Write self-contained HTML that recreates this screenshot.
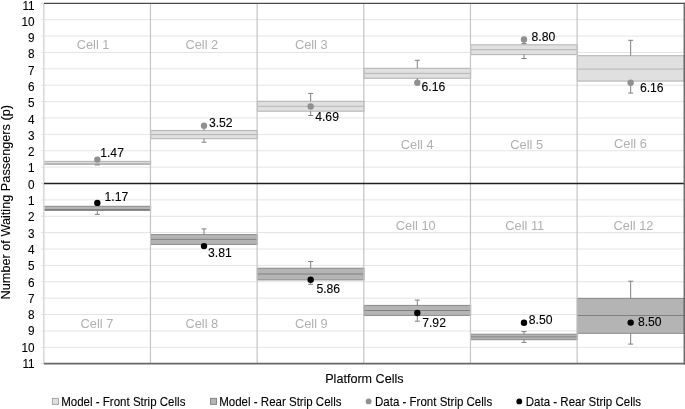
<!DOCTYPE html>
<html lang="en"><head><meta charset="utf-8"><title>Platform Cells chart</title>
<style>html,body{margin:0;padding:0;background:#fff}body{width:685px;height:409px;overflow:hidden}svg{display:block}</style></head>
<body>
<svg width="685" height="409" viewBox="0 0 685 409" font-family='"Liberation Sans", Arial, Helvetica, sans-serif'>
<rect width="685" height="409" fill="#fff"/>
<line x1="41.0" y1="347.32" x2="684.0" y2="347.32" stroke="#e4e4e4" stroke-width="1"/>
<line x1="41.0" y1="330.94" x2="684.0" y2="330.94" stroke="#e4e4e4" stroke-width="1"/>
<line x1="41.0" y1="314.55" x2="684.0" y2="314.55" stroke="#e4e4e4" stroke-width="1"/>
<line x1="41.0" y1="298.17" x2="684.0" y2="298.17" stroke="#e4e4e4" stroke-width="1"/>
<line x1="41.0" y1="281.79" x2="684.0" y2="281.79" stroke="#e4e4e4" stroke-width="1"/>
<line x1="41.0" y1="265.41" x2="684.0" y2="265.41" stroke="#e4e4e4" stroke-width="1"/>
<line x1="41.0" y1="249.03" x2="684.0" y2="249.03" stroke="#e4e4e4" stroke-width="1"/>
<line x1="41.0" y1="232.65" x2="684.0" y2="232.65" stroke="#e4e4e4" stroke-width="1"/>
<line x1="41.0" y1="216.26" x2="684.0" y2="216.26" stroke="#e4e4e4" stroke-width="1"/>
<line x1="41.0" y1="199.88" x2="684.0" y2="199.88" stroke="#e4e4e4" stroke-width="1"/>
<line x1="41.0" y1="167.12" x2="684.0" y2="167.12" stroke="#e4e4e4" stroke-width="1"/>
<line x1="41.0" y1="150.74" x2="684.0" y2="150.74" stroke="#e4e4e4" stroke-width="1"/>
<line x1="41.0" y1="134.35" x2="684.0" y2="134.35" stroke="#e4e4e4" stroke-width="1"/>
<line x1="41.0" y1="117.97" x2="684.0" y2="117.97" stroke="#e4e4e4" stroke-width="1"/>
<line x1="41.0" y1="101.59" x2="684.0" y2="101.59" stroke="#e4e4e4" stroke-width="1"/>
<line x1="41.0" y1="85.21" x2="684.0" y2="85.21" stroke="#e4e4e4" stroke-width="1"/>
<line x1="41.0" y1="68.83" x2="684.0" y2="68.83" stroke="#e4e4e4" stroke-width="1"/>
<line x1="41.0" y1="52.45" x2="684.0" y2="52.45" stroke="#e4e4e4" stroke-width="1"/>
<line x1="41.0" y1="36.06" x2="684.0" y2="36.06" stroke="#e4e4e4" stroke-width="1"/>
<line x1="41.0" y1="19.68" x2="684.0" y2="19.68" stroke="#e4e4e4" stroke-width="1"/>
<rect x="44.00" y="161.4" width="106.67" height="3.00" fill="#e0e0e0" stroke="#b6b6b6" stroke-width="1.1"/>
<line x1="44.00" y1="163.4" x2="150.67" y2="163.4" stroke="#b4b4b4" stroke-width="1"/>
<rect x="150.67" y="130.5" width="106.67" height="8.20" fill="#e0e0e0" stroke="#b6b6b6" stroke-width="1.1"/>
<line x1="150.67" y1="134.6" x2="257.33" y2="134.6" stroke="#b4b4b4" stroke-width="1"/>
<rect x="257.33" y="101.3" width="106.67" height="9.90" fill="#e0e0e0" stroke="#b6b6b6" stroke-width="1.1"/>
<line x1="257.33" y1="106.3" x2="364.00" y2="106.3" stroke="#b4b4b4" stroke-width="1"/>
<rect x="364.00" y="68.3" width="106.67" height="10.00" fill="#e0e0e0" stroke="#b6b6b6" stroke-width="1.1"/>
<line x1="364.00" y1="73.4" x2="470.67" y2="73.4" stroke="#b4b4b4" stroke-width="1"/>
<rect x="470.67" y="44.8" width="106.67" height="9.80" fill="#e0e0e0" stroke="#b6b6b6" stroke-width="1.1"/>
<line x1="470.67" y1="49.7" x2="577.33" y2="49.7" stroke="#b4b4b4" stroke-width="1"/>
<rect x="577.33" y="55.7" width="106.67" height="25.40" fill="#e0e0e0" stroke="#b6b6b6" stroke-width="1.1"/>
<line x1="577.33" y1="69.1" x2="684.00" y2="69.1" stroke="#b4b4b4" stroke-width="1"/>
<rect x="44.00" y="206.3" width="106.67" height="4.20" fill="#b4b4b4" stroke="#8a8a8a" stroke-width="1"/>
<line x1="44.00" y1="209.5" x2="150.67" y2="209.5" stroke="#808080" stroke-width="1"/>
<rect x="150.67" y="234.6" width="106.67" height="9.80" fill="#b4b4b4" stroke="#8a8a8a" stroke-width="1"/>
<line x1="150.67" y1="239.3" x2="257.33" y2="239.3" stroke="#808080" stroke-width="1"/>
<rect x="257.33" y="268.2" width="106.67" height="11.70" fill="#b4b4b4" stroke="#8a8a8a" stroke-width="1"/>
<line x1="257.33" y1="274.0" x2="364.00" y2="274.0" stroke="#808080" stroke-width="1"/>
<rect x="364.00" y="305.4" width="106.67" height="10.00" fill="#b4b4b4" stroke="#8a8a8a" stroke-width="1"/>
<line x1="364.00" y1="310.5" x2="470.67" y2="310.5" stroke="#808080" stroke-width="1"/>
<rect x="470.67" y="334.2" width="106.67" height="5.50" fill="#b4b4b4" stroke="#8a8a8a" stroke-width="1"/>
<line x1="470.67" y1="336.9" x2="577.33" y2="336.9" stroke="#808080" stroke-width="1"/>
<rect x="577.33" y="298.4" width="106.67" height="34.90" fill="#b4b4b4" stroke="#8a8a8a" stroke-width="1"/>
<line x1="577.33" y1="315.5" x2="684.00" y2="315.5" stroke="#808080" stroke-width="1"/>
<line x1="150.47" y1="3.3" x2="150.47" y2="363.8" stroke="#c4c4c4" stroke-width="1.2"/>
<line x1="257.13" y1="3.3" x2="257.13" y2="363.8" stroke="#c4c4c4" stroke-width="1.2"/>
<line x1="363.80" y1="3.3" x2="363.80" y2="363.8" stroke="#c4c4c4" stroke-width="1.2"/>
<line x1="470.47" y1="3.3" x2="470.47" y2="363.8" stroke="#c4c4c4" stroke-width="1.2"/>
<line x1="577.13" y1="3.3" x2="577.13" y2="363.8" stroke="#c4c4c4" stroke-width="1.2"/>
<line x1="43.8" y1="3.3" x2="43.8" y2="363.8" stroke="#dadada" stroke-width="1.7"/>
<line x1="41.0" y1="363.70" x2="44.0" y2="363.70" stroke="#d9d9d9" stroke-width="1"/>
<line x1="41.0" y1="183.50" x2="44.0" y2="183.50" stroke="#d9d9d9" stroke-width="1"/>
<line x1="41.0" y1="3.30" x2="44.0" y2="3.30" stroke="#d9d9d9" stroke-width="1"/>
<line x1="97.33" y1="159.5" x2="97.33" y2="161.3" stroke="#808080" stroke-width="1"/>
<line x1="97.33" y1="164.5" x2="97.33" y2="164.9" stroke="#808080" stroke-width="1"/><line x1="94.83" y1="164.9" x2="99.83" y2="164.9" stroke="#808080" stroke-width="1"/>
<line x1="204.00" y1="125.8" x2="204.00" y2="130.5" stroke="#808080" stroke-width="1"/>
<line x1="204.00" y1="138.7" x2="204.00" y2="142.2" stroke="#808080" stroke-width="1"/><line x1="201.50" y1="142.2" x2="206.50" y2="142.2" stroke="#808080" stroke-width="1"/>
<line x1="310.67" y1="93.4" x2="310.67" y2="101.3" stroke="#808080" stroke-width="1"/><line x1="308.17" y1="93.4" x2="313.17" y2="93.4" stroke="#808080" stroke-width="1"/>
<line x1="310.67" y1="111.2" x2="310.67" y2="115.5" stroke="#808080" stroke-width="1"/><line x1="308.17" y1="115.5" x2="313.17" y2="115.5" stroke="#808080" stroke-width="1"/>
<line x1="417.33" y1="60.3" x2="417.33" y2="68.3" stroke="#808080" stroke-width="1"/><line x1="414.83" y1="60.3" x2="419.83" y2="60.3" stroke="#808080" stroke-width="1"/>
<line x1="417.33" y1="78.3" x2="417.33" y2="82.8" stroke="#808080" stroke-width="1"/>
<line x1="524.00" y1="39.5" x2="524.00" y2="43.6" stroke="#808080" stroke-width="1"/><line x1="521.50" y1="43.6" x2="526.50" y2="43.6" stroke="#808080" stroke-width="1"/>
<line x1="524.00" y1="54.6" x2="524.00" y2="58.5" stroke="#808080" stroke-width="1"/><line x1="521.50" y1="58.5" x2="526.50" y2="58.5" stroke="#808080" stroke-width="1"/>
<line x1="630.67" y1="40.3" x2="630.67" y2="55.7" stroke="#808080" stroke-width="1"/><line x1="628.17" y1="40.3" x2="633.17" y2="40.3" stroke="#808080" stroke-width="1"/>
<line x1="630.67" y1="81.1" x2="630.67" y2="93.1" stroke="#808080" stroke-width="1"/><line x1="628.17" y1="93.1" x2="633.17" y2="93.1" stroke="#808080" stroke-width="1"/>
<line x1="97.33" y1="210.9" x2="97.33" y2="214.4" stroke="#808080" stroke-width="1"/><line x1="94.83" y1="214.4" x2="99.83" y2="214.4" stroke="#808080" stroke-width="1"/>
<line x1="204.00" y1="228.9" x2="204.00" y2="234.6" stroke="#808080" stroke-width="1"/><line x1="201.50" y1="228.9" x2="206.50" y2="228.9" stroke="#808080" stroke-width="1"/>
<line x1="204.00" y1="244.4" x2="204.00" y2="246" stroke="#808080" stroke-width="1"/>
<line x1="310.67" y1="261.5" x2="310.67" y2="268.2" stroke="#808080" stroke-width="1"/><line x1="308.17" y1="261.5" x2="313.17" y2="261.5" stroke="#808080" stroke-width="1"/>
<line x1="310.67" y1="279.9" x2="310.67" y2="284.4" stroke="#808080" stroke-width="1"/><line x1="308.17" y1="284.4" x2="313.17" y2="284.4" stroke="#808080" stroke-width="1"/>
<line x1="417.33" y1="300.1" x2="417.33" y2="305.4" stroke="#808080" stroke-width="1"/><line x1="414.83" y1="300.1" x2="419.83" y2="300.1" stroke="#808080" stroke-width="1"/>
<line x1="417.33" y1="315.4" x2="417.33" y2="321.2" stroke="#808080" stroke-width="1"/><line x1="414.83" y1="321.2" x2="419.83" y2="321.2" stroke="#808080" stroke-width="1"/>
<line x1="524.00" y1="331.6" x2="524.00" y2="334.2" stroke="#808080" stroke-width="1"/><line x1="521.50" y1="331.6" x2="526.50" y2="331.6" stroke="#808080" stroke-width="1"/>
<line x1="524.00" y1="339.7" x2="524.00" y2="342.4" stroke="#808080" stroke-width="1"/><line x1="521.50" y1="342.4" x2="526.50" y2="342.4" stroke="#808080" stroke-width="1"/>
<line x1="630.67" y1="281.2" x2="630.67" y2="298.4" stroke="#808080" stroke-width="1"/><line x1="628.17" y1="281.2" x2="633.17" y2="281.2" stroke="#808080" stroke-width="1"/>
<line x1="630.67" y1="333.3" x2="630.67" y2="344.1" stroke="#808080" stroke-width="1"/><line x1="628.17" y1="344.1" x2="633.17" y2="344.1" stroke="#808080" stroke-width="1"/>
<line x1="44.0" y1="3.4" x2="685.0" y2="3.4" stroke="#4a4a4a" stroke-width="1.25"/>
<line x1="44.0" y1="183.5" x2="684.0" y2="183.5" stroke="#202020" stroke-width="1.3"/>
<line x1="44.0" y1="363.7" x2="685.0" y2="363.7" stroke="#686868" stroke-width="1.7"/>
<line x1="684.3" y1="2.6999999999999997" x2="684.3" y2="364.40000000000003" stroke="#6c6c6c" stroke-width="1.5"/>
<circle cx="97.33" cy="159.6" r="3.2" fill="#909090"/>
<circle cx="204.00" cy="125.8" r="3.2" fill="#909090"/>
<circle cx="310.67" cy="106.5" r="3.2" fill="#909090"/>
<circle cx="417.33" cy="82.8" r="3.2" fill="#909090"/>
<circle cx="524.00" cy="39.5" r="3.2" fill="#909090"/>
<circle cx="630.67" cy="82.8" r="3.2" fill="#909090"/>
<circle cx="97.33" cy="202.9" r="3.2" fill="#000"/>
<circle cx="204.00" cy="246.1" r="3.2" fill="#000"/>
<circle cx="310.67" cy="279.7" r="3.2" fill="#000"/>
<circle cx="417.33" cy="313.0" r="3.2" fill="#000"/>
<circle cx="524.00" cy="322.8" r="3.2" fill="#000"/>
<circle cx="630.67" cy="322.6" r="3.2" fill="#000"/>
<text x="100.2" y="156.9" font-size="12.2" fill="#000" stroke="#000" stroke-width="0.1">1.47</text>
<text x="208.9" y="126.9" font-size="12.2" fill="#000" stroke="#000" stroke-width="0.1">3.52</text>
<text x="315.2" y="121.1" font-size="12.2" fill="#000" stroke="#000" stroke-width="0.1">4.69</text>
<text x="421.6" y="90.7" font-size="12.2" fill="#000" stroke="#000" stroke-width="0.1">6.16</text>
<text x="531.6" y="41.4" font-size="12.2" fill="#000" stroke="#000" stroke-width="0.1">8.80</text>
<text x="639.9" y="92.1" font-size="12.2" fill="#000" stroke="#000" stroke-width="0.1">6.16</text>
<text x="104.5" y="201.0" font-size="12.2" fill="#000" stroke="#000" stroke-width="0.1">1.17</text>
<text x="208.0" y="257.2" font-size="12.2" fill="#000" stroke="#000" stroke-width="0.1">3.81</text>
<text x="316.4" y="292.5" font-size="12.2" fill="#000" stroke="#000" stroke-width="0.1">5.86</text>
<text x="422.2" y="326.8" font-size="12.2" fill="#000" stroke="#000" stroke-width="0.1">7.92</text>
<text x="528.8" y="323.7" font-size="12.2" fill="#000" stroke="#000" stroke-width="0.1">8.50</text>
<text x="637.9" y="325.8" font-size="12.2" fill="#000" stroke="#000" stroke-width="0.1">8.50</text>
<text x="76.70" y="48.90" font-size="12.8" fill="#b0b0b0">Cell 1</text>
<text x="185.50" y="48.90" font-size="12.8" fill="#b0b0b0">Cell 2</text>
<text x="294.90" y="48.90" font-size="12.8" fill="#b0b0b0">Cell 3</text>
<text x="400.80" y="149.30" font-size="12.8" fill="#b0b0b0">Cell 4</text>
<text x="510.30" y="149.30" font-size="12.8" fill="#b0b0b0">Cell 5</text>
<text x="614.10" y="148.00" font-size="12.8" fill="#b0b0b0">Cell 6</text>
<text x="80.60" y="327.60" font-size="12.8" fill="#b0b0b0">Cell 7</text>
<text x="185.50" y="327.60" font-size="12.8" fill="#b0b0b0">Cell 8</text>
<text x="295.00" y="327.60" font-size="12.8" fill="#b0b0b0">Cell 9</text>
<text x="395.80" y="229.90" font-size="12.8" fill="#b0b0b0">Cell 10</text>
<text x="505.30" y="229.90" font-size="12.8" fill="#b0b0b0">Cell 11</text>
<text x="613.60" y="229.90" font-size="12.8" fill="#b0b0b0">Cell 12</text>
<text transform="translate(34.6,368.00) scale(0.95,1)" font-size="12.4" fill="#000" stroke="#000" stroke-width="0.1" text-anchor="end">11</text>
<text transform="translate(34.6,351.70) scale(0.95,1)" font-size="12.4" fill="#000" stroke="#000" stroke-width="0.1" text-anchor="end">10</text>
<text transform="translate(34.6,335.41) scale(0.95,1)" font-size="12.4" fill="#000" stroke="#000" stroke-width="0.1" text-anchor="end">9</text>
<text transform="translate(34.6,319.11) scale(0.95,1)" font-size="12.4" fill="#000" stroke="#000" stroke-width="0.1" text-anchor="end">8</text>
<text transform="translate(34.6,302.81) scale(0.95,1)" font-size="12.4" fill="#000" stroke="#000" stroke-width="0.1" text-anchor="end">7</text>
<text transform="translate(34.6,286.52) scale(0.95,1)" font-size="12.4" fill="#000" stroke="#000" stroke-width="0.1" text-anchor="end">6</text>
<text transform="translate(34.6,270.23) scale(0.95,1)" font-size="12.4" fill="#000" stroke="#000" stroke-width="0.1" text-anchor="end">5</text>
<text transform="translate(34.6,253.93) scale(0.95,1)" font-size="12.4" fill="#000" stroke="#000" stroke-width="0.1" text-anchor="end">4</text>
<text transform="translate(34.6,237.63) scale(0.95,1)" font-size="12.4" fill="#000" stroke="#000" stroke-width="0.1" text-anchor="end">3</text>
<text transform="translate(34.6,221.34) scale(0.95,1)" font-size="12.4" fill="#000" stroke="#000" stroke-width="0.1" text-anchor="end">2</text>
<text transform="translate(34.6,205.05) scale(0.95,1)" font-size="12.4" fill="#000" stroke="#000" stroke-width="0.1" text-anchor="end">1</text>
<text transform="translate(34.6,188.75) scale(0.95,1)" font-size="12.4" fill="#000" stroke="#000" stroke-width="0.1" text-anchor="end">0</text>
<text transform="translate(34.6,172.45) scale(0.95,1)" font-size="12.4" fill="#000" stroke="#000" stroke-width="0.1" text-anchor="end">1</text>
<text transform="translate(34.6,156.16) scale(0.95,1)" font-size="12.4" fill="#000" stroke="#000" stroke-width="0.1" text-anchor="end">2</text>
<text transform="translate(34.6,139.87) scale(0.95,1)" font-size="12.4" fill="#000" stroke="#000" stroke-width="0.1" text-anchor="end">3</text>
<text transform="translate(34.6,123.57) scale(0.95,1)" font-size="12.4" fill="#000" stroke="#000" stroke-width="0.1" text-anchor="end">4</text>
<text transform="translate(34.6,107.27) scale(0.95,1)" font-size="12.4" fill="#000" stroke="#000" stroke-width="0.1" text-anchor="end">5</text>
<text transform="translate(34.6,90.98) scale(0.95,1)" font-size="12.4" fill="#000" stroke="#000" stroke-width="0.1" text-anchor="end">6</text>
<text transform="translate(34.6,74.68) scale(0.95,1)" font-size="12.4" fill="#000" stroke="#000" stroke-width="0.1" text-anchor="end">7</text>
<text transform="translate(34.6,58.39) scale(0.95,1)" font-size="12.4" fill="#000" stroke="#000" stroke-width="0.1" text-anchor="end">8</text>
<text transform="translate(34.6,42.09) scale(0.95,1)" font-size="12.4" fill="#000" stroke="#000" stroke-width="0.1" text-anchor="end">9</text>
<text transform="translate(34.6,25.80) scale(0.95,1)" font-size="12.4" fill="#000" stroke="#000" stroke-width="0.1" text-anchor="end">10</text>
<text transform="translate(34.6,9.50) scale(0.95,1)" font-size="12.4" fill="#000" stroke="#000" stroke-width="0.1" text-anchor="end">11</text>
<text transform="translate(10.3,202.2) rotate(-90) scale(1.026,1)" font-size="12.4" fill="#000" stroke="#000" stroke-width="0.1" text-anchor="middle">Number of Waiting Passengers (p)</text>
<text x="364.4" y="382.9" font-size="12.6" fill="#000" stroke="#000" stroke-width="0.1" text-anchor="middle">Platform Cells</text>
<rect x="52.4" y="398.4" width="6" height="6" fill="#e0e0e0" stroke="#a6a6a6" stroke-width="1"/>
<text transform="translate(61.2,405.5) scale(0.945,1)" font-size="12.2" fill="#000" stroke="#000" stroke-width="0.1">Model - Front Strip Cells</text>
<rect x="210.5" y="398.4" width="6" height="6" fill="#b4b4b4" stroke="#888" stroke-width="1"/>
<text transform="translate(219.2,405.5) scale(0.945,1)" font-size="12.2" fill="#000" stroke="#000" stroke-width="0.1">Model - Rear Strip Cells</text>
<circle cx="368.6" cy="401.4" r="2.9" fill="#909090"/>
<text transform="translate(375,405.5) scale(0.945,1)" font-size="12.2" fill="#000" stroke="#000" stroke-width="0.1">Data - Front Strip Cells</text>
<circle cx="519.3" cy="401.4" r="2.9" fill="#000"/>
<text transform="translate(525.8,405.5) scale(0.945,1)" font-size="12.2" fill="#000" stroke="#000" stroke-width="0.1">Data - Rear Strip Cells</text>
</svg>
</body></html>
